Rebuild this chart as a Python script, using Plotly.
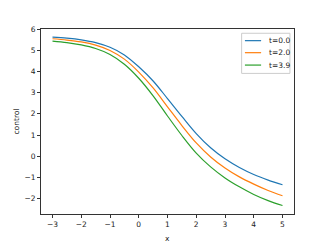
import plotly.graph_objects as go

x_vals = [-3, -2.5, -2, -1.5, -1, -0.5, 0, 0.5, 1, 1.5, 2, 2.5, 3, 3.5, 4, 4.5, 5]
t00 = [5.62, 5.57, 5.49, 5.36, 5.14, 4.78, 4.22, 3.55, 2.72, 1.88, 1.07, 0.40, -0.12, -0.53, -0.86, -1.12, -1.34]
t20 = [5.54, 5.48, 5.39, 5.24, 4.99, 4.58, 3.97, 3.22, 2.33, 1.45, 0.63, -0.03, -0.55, -0.97, -1.31, -1.61, -1.86]
t39 = [5.43, 5.36, 5.25, 5.08, 4.80, 4.34, 3.68, 2.85, 1.90, 0.98, 0.15, -0.50, -1.02, -1.44, -1.80, -2.09, -2.32]
names = ["t=0.0", "t=2.0", "t=3.9"]
colors = ["#1f77b4", "#ff7f0e", "#2ca02c"]
x_ticks = [-3, -2, -1, 0, 1, 2, 3, 4, 5]
y_ticks = [-2, -1, 0, 1, 2, 3, 4, 5, 6]

fig = go.Figure()
for ys, n, c in zip([t00, t20, t39], names, colors):
    fig.add_trace(go.Scatter(x=x_vals, y=ys, mode="lines", name=n, showlegend=False,
                             line=dict(color=c, width=1.2, shape="spline")))

axis_common = dict(showgrid=False, zeroline=False, showline=True, linecolor="#333333",
                   linewidth=1, mirror=True, ticks="outside", ticklen=3, tickwidth=1,
                   tickcolor="#333333", automargin=False,
                   tickfont=dict(family="DejaVu Sans", size=7.5, color="#222222"))
# page body has an 8px default margin, so the figure is offset by (8, 8)
fig.update_layout(
    width=319, height=237,
    margin=dict(l=33, r=33, t=21, b=31),
    paper_bgcolor="white", plot_bgcolor="white",
    font=dict(family="DejaVu Sans", size=7.5, color="#222222"),
    xaxis=dict(range=[-3.4, 5.4], tickvals=x_ticks, **axis_common),
    yaxis=dict(range=[-2.72, 6.0], tickvals=y_ticks, **axis_common),
    showlegend=False,
)
# axis titles
fig.add_annotation(text="x", xref="paper", yref="paper", x=0.5, y=0, yshift=-18,
                   showarrow=False, yanchor="top", font=dict(size=7.5))
fig.add_annotation(text="control", xref="paper", yref="paper", x=0, y=0.5, xshift=-25,
                   showarrow=False, xanchor="center", textangle=-90, font=dict(size=7.5))

# legend box
lx0, lx1, ly0, ly1 = 0.793, 0.984, 0.760, 0.977
fig.add_shape(type="rect", xref="paper", yref="paper", x0=lx0, x1=lx1, y0=ly0, y1=ly1,
              line=dict(color="#cccccc", width=1), fillcolor="white", layer="above")
row_y = [0.937, 0.872, 0.805]
for n, c, ry in zip(names, colors, row_y):
    fig.add_shape(type="line", xref="paper", yref="paper", x0=0.806, x1=0.870, y0=ry, y1=ry,
                  line=dict(color=c, width=1.2), layer="above")
    fig.add_annotation(text=n, xref="paper", yref="paper", x=0.893, y=ry, xanchor="left",
                       yanchor="middle", showarrow=False, font=dict(size=7.5))
fig.write_html("out.html")
